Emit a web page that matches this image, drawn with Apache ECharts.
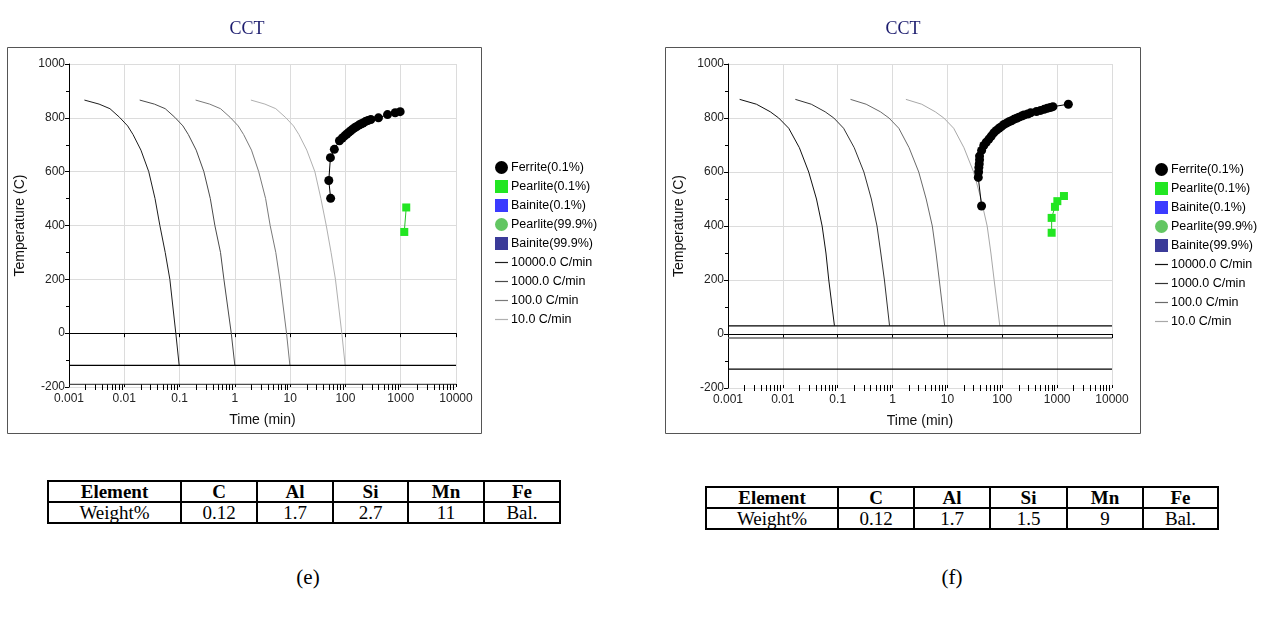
<!DOCTYPE html>
<html>
<head>
<meta charset="utf-8">
<script src="https://cdn.jsdelivr.net/npm/echarts@6/dist/echarts.min.js"></script>
<style>
  body { margin: 0; background: #fff; }
  #page { position: relative; width: 1265px; height: 617px; overflow: hidden; background: #fff; }
  .chart { position: absolute; top: 0; height: 445px; }
  table.comp { position: absolute; border-collapse: collapse; font-family: 'Liberation Serif', serif; font-size: 19px; color: #000; }
  table.comp td { border: 2px solid #000; text-align: center; padding: 0; height: 19px; line-height: 19px; }
  table.comp tr:first-child td { font-weight: bold; }
  .cap { position: absolute; font-family: 'Liberation Serif', serif; font-size: 21px; transform: translate(-50%, -50%); }
</style>
</head>
<body>
<div id="page">
  <div id="chartE" class="chart" style="left:0;width:640px"></div>
  <div id="chartF" class="chart" style="left:640px;width:625px"></div>
  <table id="tableE" class="comp" style="left:47px;top:480px"></table>
  <table id="tableF" class="comp" style="left:705px;top:486px"></table>
  <div class="cap" style="left:308px;top:577px">(e)</div>
  <div class="cap" style="left:952px;top:577px">(f)</div>
</div>
<script>
// axis ticks
var decades = [0.001, 0.01, 0.1, 1, 10, 100, 1000, 10000];
var minorSteps = [2, 3, 4, 5, 6, 7, 8, 9];

// legend entries
var phaseNames = ['Ferrite(0.1%)', 'Pearlite(0.1%)', 'Bainite(0.1%)', 'Pearlite(99.9%)', 'Bainite(99.9%)'];
var rateNames = ['10000.0 C/min', '1000.0 C/min', '100.0 C/min', '10.0 C/min'];

// chart (e): cooling curves [time min, temp C]
var coolE10000 = [[0.0019, 866], [0.0035, 851], [0.0055, 834], [0.0082, 802], [0.0115, 770], [0.0144, 738], [0.02, 680], [0.0277, 600], [0.036, 500], [0.044, 400], [0.055, 300], [0.0667, 200], [0.0855, 0], [0.0984, -120]];
var coolE1000 = [[0.019, 866], [0.035, 851], [0.055, 834], [0.082, 802], [0.115, 770], [0.144, 738], [0.2, 680], [0.275, 600], [0.36, 500], [0.435, 400], [0.55, 300], [0.634, 200], [0.861, 0], [1.0, -120]];
var coolE100 = [[0.195, 866], [0.35, 851], [0.55, 834], [0.82, 802], [1.15, 770], [1.44, 738], [2.0, 680], [2.7, 600], [3.6, 500], [4.35, 400], [5.5, 300], [6.5, 200], [8.6, 0], [9.9, -120]];
var coolE10 = [[1.95, 866], [3.5, 851], [5.5, 834], [8.2, 802], [11.5, 770], [14.4, 738], [20, 680], [28, 600], [36, 500], [45, 400], [55, 300], [66, 200], [86, 0], [99, -120]];
var ferriteE = [[54, 501], [50, 567], [53.5, 652], [63, 683], [78, 715], [88, 725], [97, 733], [106, 740], [115, 746], [125, 752], [135, 758], [147, 763], [160, 768], [175, 773], [190, 777], [208, 781], [230, 786], [255, 790], [288, 794], [396, 800], [577, 812], [794, 819], [977, 823]];
var pearliteE = [[1259, 467], [1160, 376]];
var levelsE = [-120, -190];

// chart (f)
var coolF10000 = [[0.00163, 869], [0.0033, 851], [0.0059, 823], [0.0084, 800], [0.0128, 762], [0.02, 690], [0.0296, 600], [0.041, 500], [0.052, 400], [0.061, 300], [0.0687, 200], [0.0871, 31]];
var coolF1000 = [[0.0169, 869], [0.033, 851], [0.059, 823], [0.085, 800], [0.128, 762], [0.2, 690], [0.3, 600], [0.41, 500], [0.52, 400], [0.61, 300], [0.71, 200], [0.88, 31]];
var coolF100 = [[0.171, 869], [0.33, 851], [0.6, 823], [0.86, 800], [1.3, 762], [2.0, 690], [3.0, 600], [4.1, 500], [5.3, 400], [6.2, 300], [7.1, 200], [8.9, 31]];
var coolF10 = [[1.75, 869], [3.4, 851], [6.0, 823], [8.6, 800], [13, 762], [20, 690], [30, 600], [41, 500], [53, 400], [62, 300], [71, 200], [90, 31]];
var ferriteF = [[41.9, 474], [36.5, 580], [37.0, 600], [37.4, 617], [38.0, 630], [38.5, 645], [38.5, 659], [42, 680], [46, 698], [51, 710], [57, 722], [63, 733], [70, 745], [78, 754], [87, 762], [96, 768], [107, 776], [119, 781], [132, 786], [147, 790], [163, 795], [182, 799], [201, 803], [225, 807], [248, 811], [290, 815], [328, 819], [420, 824], [500, 828], [580, 832], [662, 836], [750, 839], [838, 842], [1600, 851]];
var pearliteF = [[794, 375], [794, 430], [912, 471], [1009, 492], [1331, 511]];
var levelsF = [30, -15, -130];

// composition tables
var elements = ['Element', 'C', 'Al', 'Si', 'Mn', 'Fe'];
var weightE = ['Weight%', '0.12', '1.7', '2.7', '11', 'Bal.'];
var weightF = ['Weight%', '0.12', '1.7', '1.5', '9', 'Bal.'];

var minorTicks = [];
decades.slice(0, -1).forEach(function (d) {
    minorSteps.forEach(function (m) { minorTicks.push(+(d * m).toPrecision(3)); });
});

var font = 'Liberation Sans';
var lineIcon = 'path://M0,0 L13,0 L13,1.2 L0,1.2 Z';

function logAxis(extra) {
    var base = {
        type: 'log', logBase: 10, min: 0.001, max: 10000, gridIndex: 0, position: 'bottom',
        axisLine: { show: false }, axisLabel: { show: false }, splitLine: { show: false },
        axisTick: { show: false }
    };
    return Object.assign(base, extra);
}

function buildOption(c) {
    var series = [];
    var rateColors = c.rateColors;
    c.curves.forEach(function (d, i) {
        series.push({
            name: rateNames[i], type: 'line', data: d, symbol: 'none', showSymbol: false,
            lineStyle: { color: rateColors[i], width: 1 }, itemStyle: { color: rateColors[i] }, z: 2
        });
    });
    c.levels.forEach(function (v, i) {
        series.push({
            name: 'level' + i, type: 'line', symbol: 'none',
            data: [[decades[0], v], [decades[decades.length - 1], v]],
            lineStyle: { color: c.levelColors[i], width: c.levelWidths[i] }, z: 2
        });
    });
    series.push({
        name: phaseNames[0], type: 'line', data: c.ferrite, symbol: 'circle', symbolSize: 9,
        itemStyle: { color: '#000' }, lineStyle: { color: '#000', width: 1 }, z: 4
    });
    series.push({
        name: phaseNames[1], type: 'line', data: c.pearlite, symbol: 'rect', symbolSize: 8,
        itemStyle: { color: '#22e622' }, lineStyle: { color: '#22c622', width: 1 }, z: 4
    });
    series.push({ name: phaseNames[2], type: 'scatter', data: [], symbol: 'rect', itemStyle: { color: '#0a0aff' } });
    series.push({ name: phaseNames[3], type: 'scatter', data: [], symbol: 'circle', itemStyle: { color: '#3cb83c' } });
    series.push({ name: phaseNames[4], type: 'scatter', data: [], symbol: 'rect', itemStyle: { color: '#0a0a80' } });

    var icons = ['circle', 'rect', 'rect', 'circle', 'rect'];
    var legendData = phaseNames.map(function (n, i) { return { name: n, icon: icons[i] }; })
        .concat(rateNames.map(function (n) { return { name: n, icon: lineIcon }; }));

    return {
        animation: false,
        backgroundColor: '#fff',
        title: {
            text: 'CCT', left: c.titleX, top: 15, textAlign: 'center',
            textStyle: { fontFamily: 'Liberation Serif', fontSize: 18, fontWeight: 'normal', color: '#1c1c6e' }
        },
        graphic: [{
            type: 'rect', shape: c.frame, silent: true,
            style: { fill: 'none', stroke: '#555', lineWidth: 1 }
        }],
        legend: {
            orient: 'vertical', left: c.legendX, top: c.legendY, itemWidth: 13, itemHeight: 13, itemGap: 6,
            symbolKeepAspect: true,
            textStyle: { fontFamily: font, fontSize: 12.5, color: '#000', padding: [0, 0, 0, -2] },
            data: legendData
        },
        grid: c.grid,
        xAxis: [
            {
                type: 'log', logBase: 10, min: 0.001, max: 10000, gridIndex: 0,
                name: 'Time (min)', nameLocation: 'middle', nameGap: 26,
                nameTextStyle: { fontFamily: font, fontSize: 14, color: '#111' },
                axisLine: { lineStyle: { color: '#000', width: 1 } },
                axisTick: { length: 4, lineStyle: { color: '#000' } },
                axisLabel: {
                    margin: 6, fontFamily: font, fontSize: 12, color: '#222',
                    formatter: function (v) { return String(v); }
                },
                splitLine: { lineStyle: { color: '#dcdcdc', width: 1 } }
            },
            logAxis({ axisTick: { show: true, customValues: minorTicks, length: 3, lineStyle: { color: '#000' } } }),
            logAxis({ axisTick: { show: true, inside: true, customValues: minorTicks.concat(decades), length: 3, lineStyle: { color: '#000' } } })
        ],
        yAxis: {
            type: 'value', min: -200, max: 1000, interval: 200,
            name: 'Temperature (C)', nameLocation: 'middle', nameGap: 37,
            nameTextStyle: { fontFamily: font, fontSize: 14, color: '#111' },
            axisLine: { show: true, lineStyle: { color: '#000' } },
            axisTick: { show: true, length: 4, lineStyle: { color: '#000' } },
            minorTick: { show: true, splitNumber: 2, length: 3, lineStyle: { color: '#000' } },
            axisLabel: {
                margin: 4, fontFamily: font, fontSize: 12, color: '#222',
                formatter: function (v) { return String(v); }
            },
            splitLine: { lineStyle: { color: '#dcdcdc', width: 1 } }
        },
        series: series
    };
}

var chartE = echarts.init(document.getElementById('chartE'));
chartE.setOption(buildOption({
    curves: [coolE10000, coolE1000, coolE100, coolE10],
    rateColors: ['#1e1e1e', '#4a4a4a', '#7a7a7a', '#b0b0b0'],
    levels: levelsE, levelColors: ['#000', '#222'], levelWidths: [1.2, 1],
    ferrite: ferriteE, pearlite: pearliteE,
    grid: { left: 69, top: 64, width: 387, height: 323 },
    frame: { x: 7.5, y: 47.5, width: 474, height: 386 },
    titleX: 242, legendX: 490, legendY: 156
}));

var chartF = echarts.init(document.getElementById('chartF'));
chartF.setOption(buildOption({
    curves: [coolF10000, coolF1000, coolF100, coolF10],
    rateColors: ['#111', '#333', '#6a6a6a', '#a8a8a8'],
    levels: levelsF, levelColors: ['#000', '#666', '#000'], levelWidths: [1.2, 1.6, 1.2],
    ferrite: ferriteF, pearlite: pearliteF,
    grid: { left: 88, top: 64, width: 384, height: 324 },
    frame: { x: 25.5, y: 47.5, width: 475, height: 386 },
    titleX: 258, legendX: 510, legendY: 158
}));

function fillTable(id, rows, widths) {
    var t = document.getElementById(id);
    rows.forEach(function (r) {
        var tr = document.createElement('tr');
        r.forEach(function (cell, i) {
            var td = document.createElement('td');
            td.textContent = cell;
            td.style.width = widths[i] + 'px';
            tr.appendChild(td);
        });
        t.appendChild(tr);
    });
}
fillTable('tableE', [elements, weightE], [131, 74, 74, 73, 74, 74]);
fillTable('tableF', [elements, weightF], [130, 74, 74, 75, 74, 73]);
</script>
</body>
</html>
